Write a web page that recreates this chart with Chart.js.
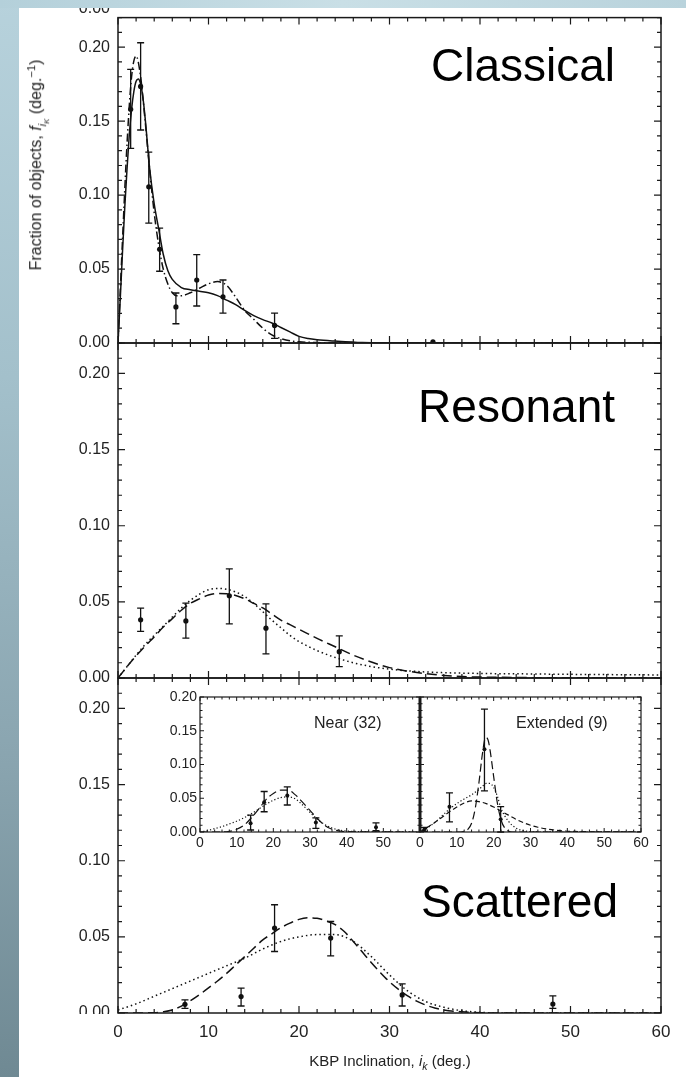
<!DOCTYPE html>
<html lang="en">
<head>
    <meta charset="UTF-8">
    <title>KBP Inclination distributions</title>
    <script src="https://cdn.jsdelivr.net/npm/chart.js"></script>
    <style>
        body {
            margin: 0;
            width: 686px;
            height: 1077px;
            overflow: hidden;
            position: relative;
            background: #fff;
            font-family: 'Liberation Sans', Arial, Helvetica, sans-serif;
            color: #222;
        }
        canvas {
            position: absolute;
            left: 0;
            top: 0;
        }
        .bgLeft {
            position: absolute;
            left: 0; top: 0;
            width: 19px; height: 1077px;
            background: linear-gradient(180deg, #b7d2dc 0%, #a3c0cb 35%, #8aa5b0 70%, #6f8993 100%);
            z-index: 5;
        }
        .bgTop {
            position: absolute;
            left: 0; top: 0;
            width: 686px; height: 8px;
            background: linear-gradient(90deg, #b4d0da 0%, #c9dfe6 50%, #b9d3dc 100%);
            z-index: 5;
        }
        .big {
            position: absolute;
            font-size: 46px;
            line-height: 1;
            color: #000;
            white-space: nowrap;
            z-index: 4;
        }
        .small {
            position: absolute;
            font-size: 16px;
            line-height: 1;
            white-space: nowrap;
            z-index: 4;
        }
        #ytitle {
            position: absolute;
            left: 38px;
            top: 165px;
            font-size: 16px;
            white-space: nowrap;
            transform: translate(-50%, -50%) rotate(-90deg);
            z-index: 4;
        }
        #xtitle {
            position: absolute;
            left: 390px;
            top: 1062px;
            font-size: 15px;
            white-space: nowrap;
            transform: translate(-50%, -50%);
            z-index: 4;
        }
        sub { font-size: 70%; }
        sup { font-size: 70%; }
        .cover {
            position: absolute;
            background: #fff;
            z-index: 3;
        }
    </style>
</head>
<body>
    <canvas id="cTop" width="686" height="1077"></canvas>
    <canvas id="cMid" width="686" height="1077"></canvas>
    <canvas id="cBot" width="686" height="1077"></canvas>
    <canvas id="cNear" width="686" height="1077"></canvas>
    <canvas id="cExt" width="686" height="1077"></canvas>

    <div class="bgLeft"></div>
    <div class="bgTop"></div>
    <div class="small" style="right:576px; top:0px;">0.00</div>
    <div class="cover" style="left:60px; top:1014px; width:56px; height:10px;"></div>

    <div id="ytitle">Fraction of objects, <i>f</i><sub><i>i<sub>K</sub></i></sub> (deg.<sup>−1</sup>)</div>
    <div id="xtitle">KBP Inclination, <i>i</i><sub><i>k</i></sub> (deg.)</div>

    <div class="big" style="right:71px; top:42px;">Classical</div>
    <div class="big" style="right:71px; top:383px;">Resonant</div>
    <div class="big" style="right:68px; top:878px;">Scattered</div>
    <div class="small" style="left:314px; top:715px;">Near (32)</div>
    <div class="small" style="left:516px; top:715px;">Extended (9)</div>

    <script>
        // ---- data ----
        const xTickValues = [0, 10, 20, 30, 40, 50, 60];
        const yTickValues = [0, 0.05, 0.10, 0.15, 0.20];

        // Classical
        const clsPtX  = [1.4, 2.5, 3.4, 4.6, 6.4, 8.7, 11.6, 17.3, 34.8];
        const clsPtY  = [0.158, 0.1735, 0.1056, 0.0634, 0.0244, 0.0426, 0.0312, 0.0119, 0.0008];
        const clsPtLo = [0.1316, 0.144, 0.081, 0.0485, 0.013, 0.025, 0.0202, 0.0031, 0.0008];
        const clsPtHi = [0.185, 0.203, 0.129, 0.0777, 0.0338, 0.0597, 0.0426, 0.0202, 0.0008];
        const clsSolidX = [0, 0.25, 0.5, 0.75, 1, 1.25, 1.5, 1.75, 2, 2.25, 2.5, 2.75, 3, 3.5, 4, 4.5, 5, 5.5, 6, 7, 8, 9, 10, 11, 12, 13, 14, 15, 16, 17, 18, 19, 20, 21, 22, 24, 27, 30, 40, 60];
        const clsSolidY = [0, 0.030, 0.062, 0.092, 0.118, 0.141, 0.158, 0.170, 0.177, 0.1785, 0.175, 0.166, 0.152, 0.118, 0.094, 0.077, 0.060, 0.049, 0.043, 0.0375, 0.036, 0.035, 0.034, 0.032, 0.029, 0.026, 0.022, 0.0185, 0.0158, 0.0135, 0.0105, 0.0075, 0.0045, 0.003, 0.0022, 0.0013, 0.0003, 0.0001, 0, 0];
        const clsDashDotX = [0, 0.5, 1, 1.5, 2, 2.5, 3, 3.5, 4, 4.5, 5, 5.5, 6, 6.5, 7, 8, 9, 10, 11, 12, 13, 14, 15, 16, 17, 18, 19, 20, 22, 25, 30, 60];
        const clsDashDotY = [0, 0.07, 0.135, 0.180, 0.194, 0.180, 0.150, 0.117, 0.088, 0.066, 0.050, 0.040, 0.034, 0.032, 0.032, 0.034, 0.037, 0.040, 0.0415, 0.039, 0.031, 0.022, 0.016, 0.010, 0.0055, 0.003, 0.0015, 0.0008, 0.0003, 0.0001, 0, 0];

        // Resonant
        const resPtX  = [2.5, 7.5, 12.3, 16.35, 24.45];
        const resPtY  = [0.0382, 0.0375, 0.054, 0.0327, 0.0173];
        const resPtLo = [0.0306, 0.0262, 0.0356, 0.0158, 0.0075];
        const resPtHi = [0.0459, 0.0492, 0.0716, 0.0487, 0.0277];
        const resDashX = [0, 1, 2, 3, 4, 5, 6, 7, 8, 9, 10, 11, 12, 13, 14, 15, 16, 17, 18, 19, 20, 22, 24, 26, 28, 30, 32, 34, 36, 40, 60];
        const resDashY = [0, 0.0075, 0.0145, 0.021, 0.027, 0.0335, 0.039, 0.0445, 0.049, 0.052, 0.0545, 0.0555, 0.0553, 0.0542, 0.052, 0.049, 0.046, 0.042, 0.038, 0.035, 0.032, 0.026, 0.0205, 0.015, 0.0105, 0.0068, 0.0045, 0.0028, 0.0017, 0.0006, 0];
        const resDotX = [0, 1, 2, 3, 4, 5, 6, 7, 8, 9, 10, 11, 12, 13, 14, 15, 16, 17, 18, 19, 20, 22, 24, 26, 28, 30, 32, 35, 40, 45, 50, 55, 60];
        const resDotY = [0, 0.0075, 0.015, 0.022, 0.028, 0.034, 0.040, 0.046, 0.051, 0.055, 0.058, 0.0588, 0.0583, 0.0565, 0.0535, 0.049, 0.0435, 0.038, 0.033, 0.028, 0.024, 0.018, 0.0135, 0.010, 0.0075, 0.0058, 0.0047, 0.0037, 0.003, 0.0027, 0.0024, 0.0022, 0.002];

        // Scattered
        const scaPtX  = [7.4, 13.6, 17.3, 23.5, 31.4, 48.05];
        const scaPtY  = [0.0057, 0.0108, 0.0558, 0.0492, 0.0119, 0.0059];
        const scaPtLo = [0.003, 0.0046, 0.0404, 0.0375, 0.0046, 0.003];
        const scaPtHi = [0.0086, 0.0163, 0.0711, 0.0601, 0.0191, 0.0112];
        const scaDashX = [0, 4, 5, 6, 7, 8, 9, 10, 11, 12, 13, 14, 15, 16, 17, 18, 19, 20, 21, 22, 23, 24, 25, 26, 27, 28, 29, 30, 31, 32, 33, 34, 35, 36, 38, 40, 42, 60];
        const scaDashY = [0, 0.0002, 0.0008, 0.002, 0.0045, 0.008, 0.012, 0.0165, 0.021, 0.026, 0.0315, 0.037, 0.0425, 0.048, 0.052, 0.056, 0.059, 0.0615, 0.0625, 0.0622, 0.0605, 0.058, 0.0535, 0.047, 0.040, 0.033, 0.0265, 0.0205, 0.0155, 0.0112, 0.0078, 0.0052, 0.0033, 0.002, 0.0008, 0.0002, 0, 0];
        const scaDotX = [0, 2, 4, 6, 8, 10, 12, 14, 16, 18, 20, 22, 24, 26, 28, 30, 32, 34, 36, 38, 40, 42, 60];
        const scaDotY = [0.002, 0.006, 0.011, 0.016, 0.021, 0.026, 0.031, 0.036, 0.042, 0.047, 0.050, 0.0515, 0.0515, 0.047, 0.037, 0.025, 0.0145, 0.0075, 0.0038, 0.0015, 0.0005, 0, 0];

        // Inset: Near (32)
        const nearPtX  = [13.8, 17.5, 23.8, 31.6, 48.0];
        const nearPtY  = [0.013, 0.044, 0.054, 0.014, 0.007];
        const nearPtLo = [0.003, 0.030, 0.040, 0.0055, 0.002];
        const nearPtHi = [0.025, 0.060, 0.067, 0.021, 0.0135];
        const nearDashX = [0, 6, 8, 10, 12, 14, 16, 18, 20, 22, 24, 26, 28, 30, 32, 34, 36, 38, 40, 60];
        const nearDashY = [0, 0, 0.001, 0.004, 0.010, 0.021, 0.034, 0.048, 0.057, 0.062, 0.062, 0.055, 0.044, 0.032, 0.020, 0.010, 0.004, 0.0015, 0.0005, 0];
        const nearDotX = [0, 2, 4, 6, 8, 10, 12, 14, 16, 18, 20, 22, 24, 26, 28, 30, 32, 34, 36, 38, 40, 45, 50, 60];
        const nearDotY = [0, 0.002, 0.005, 0.008, 0.012, 0.016, 0.021, 0.027, 0.034, 0.041, 0.047, 0.051, 0.052, 0.049, 0.040, 0.029, 0.019, 0.011, 0.006, 0.003, 0.0015, 0.0005, 0.0002, 0];

        // Inset: Extended (9)
        const extPtX  = [1.2, 8.0, 17.5, 21.9];
        const extPtY  = [0.004, 0.0375, 0.1225, 0.019];
        const extPtLo = [0.001, 0.015, 0.061, 0.0];
        const extPtHi = [0.007, 0.058, 0.182, 0.0375];
        const extNarrowX = [0, 11, 12, 13, 14, 15, 16, 17, 17.8, 18.5, 19, 20, 21, 22, 23, 24, 25, 60];
        const extNarrowY = [0, 0, 0.001, 0.004, 0.013, 0.035, 0.073, 0.118, 0.140, 0.136, 0.122, 0.082, 0.043, 0.018, 0.006, 0.0015, 0, 0];
        const extBroadX = [0, 2, 4, 6, 8, 10, 12, 14, 16, 18, 20, 22, 24, 26, 28, 30, 32, 35, 38, 42, 50, 60];
        const extBroadY = [0, 0.007, 0.014, 0.022, 0.030, 0.037, 0.043, 0.046, 0.045, 0.042, 0.037, 0.031, 0.025, 0.019, 0.014, 0.010, 0.007, 0.004, 0.002, 0.0008, 0.0002, 0];
        const extDotX = [0, 2, 4, 6, 8, 10, 12, 14, 16, 17, 18, 19, 20, 21, 22, 24, 26, 28, 30, 35, 60];
        const extDotY = [0, 0.006, 0.014, 0.024, 0.034, 0.042, 0.049, 0.055, 0.063, 0.068, 0.072, 0.072, 0.066, 0.053, 0.035, 0.016, 0.006, 0.002, 0.0005, 0, 0];

        // ---- layout ----
        const W = 686, H = 1077;
        const AX_L = 118, AX_R = 661;
        const FONT = "'Liberation Sans', Arial, Helvetica, sans-serif";
        const INK = '#111';

        Chart.defaults.font.family = FONT;
        Chart.defaults.color = '#222';

        const pts = (xs, ys) => xs.map((x, i) => ({ x: x, y: ys[i] }));

        function curve(xs, ys, dash, width) {
            return {
                data: pts(xs, ys),
                borderColor: INK,
                borderWidth: width || 1.5,
                borderDash: dash,
                pointRadius: 0,
                fill: false,
                cubicInterpolationMode: 'monotone'
            };
        }

        function points(xs, ys, lo, hi, r) {
            return {
                data: pts(xs, ys),
                showLine: false,
                pointRadius: r || 2.6,
                pointBackgroundColor: INK,
                pointBorderWidth: 0,
                errLo: lo,
                errHi: hi
            };
        }

        // error bars drawn through the chart's own scales
        const errorBars = {
            id: 'errorBars',
            afterDatasetsDraw(chart) {
                const ctx = chart.ctx, x = chart.scales.x, y = chart.scales.y;
                ctx.save();
                ctx.strokeStyle = INK;
                ctx.lineWidth = 1.3;
                chart.data.datasets.forEach(ds => {
                    if (!ds.errLo) return;
                    ds.data.forEach((p, i) => {
                        if (ds.errHi[i] - ds.errLo[i] < 1e-6) return;
                        const px = x.getPixelForValue(p.x);
                        const y1 = y.getPixelForValue(ds.errLo[i]);
                        const y2 = y.getPixelForValue(ds.errHi[i]);
                        const cap = ds.cap || 3.5;
                        ctx.beginPath();
                        ctx.moveTo(px, y1); ctx.lineTo(px, y2);
                        ctx.moveTo(px - cap, y1); ctx.lineTo(px + cap, y1);
                        ctx.moveTo(px - cap, y2); ctx.lineTo(px + cap, y2);
                        ctx.stroke();
                    });
                });
                ctx.restore();
            }
        };

        // box with inward ticks
        function framePlugin(o) {
            return {
                id: 'frame',
                beforeDatasetsDraw(chart) {
                    if (!o.fill) return;
                    const a = chart.chartArea;
                    chart.ctx.save();
                    chart.ctx.fillStyle = '#fff';
                    chart.ctx.fillRect(a.left, a.top, a.right - a.left, a.bottom - a.top);
                    chart.ctx.restore();
                },
                afterDraw(chart) {
                    const ctx = chart.ctx, a = chart.chartArea, x = chart.scales.x, y = chart.scales.y;
                    ctx.save();
                    ctx.strokeStyle = '#1a1a1a';
                    ctx.lineWidth = o.lw;
                    ctx.strokeRect(a.left, a.top, a.right - a.left, a.bottom - a.top);
                    if (o.thickLeft) {
                        ctx.lineWidth = 3;
                        ctx.beginPath();
                        ctx.moveTo(a.left, a.top); ctx.lineTo(a.left, a.bottom);
                        ctx.stroke();
                    }
                    ctx.lineWidth = o.tw;
                    ctx.beginPath();
                    const nx = Math.round((x.max - x.min) / o.xMinor);
                    for (let k = 0; k <= nx; k++) {
                        const v = x.min + k * o.xMinor;
                        const major = Math.abs(v / o.xMajor - Math.round(v / o.xMajor)) < 1e-6;
                        const L = major ? o.majorLen : o.minorLen;
                        const px = x.getPixelForValue(v);
                        ctx.moveTo(px, a.top); ctx.lineTo(px, a.top + L);
                        ctx.moveTo(px, a.bottom); ctx.lineTo(px, a.bottom - L);
                    }
                    const ny = Math.round((y.max - y.min) / o.yMinor);
                    for (let k = 0; k <= ny; k++) {
                        const v = y.min + k * o.yMinor;
                        const major = Math.abs(v / o.yMajor - Math.round(v / o.yMajor)) < 1e-6;
                        const L = major ? o.majorLen : o.minorLen;
                        const py = y.getPixelForValue(v);
                        ctx.moveTo(a.left, py); ctx.lineTo(a.left + L, py);
                        ctx.moveTo(a.right, py); ctx.lineTo(a.right - L, py);
                    }
                    ctx.stroke();
                    ctx.restore();
                }
            };
        }

        const mainFrame = { lw: 1.5, tw: 1.2, xMinor: 2, xMajor: 10, yMinor: 0.01, yMajor: 0.05, majorLen: 7, minorLen: 4 };

        function panelChart(id, top, bottom, datasets, showX) {
            const xH = showX ? 30 : 0;
            return new Chart(document.getElementById(id), {
                type: 'line',
                data: { datasets: datasets },
                options: {
                    responsive: false,
                    animation: false,
                    events: [],
                    layout: { padding: { left: 0, right: W - AX_R, top: top, bottom: H - bottom - xH } },
                    plugins: { legend: { display: false }, tooltip: { enabled: false } },
                    scales: {
                        x: {
                            type: 'linear', min: 0, max: 60, display: showX,
                            grid: { display: false, drawTicks: false }, border: { display: false },
                            afterBuildTicks: s => { s.ticks = xTickValues.map(v => ({ value: v })); },
                            ticks: { padding: 9, color: '#222', font: { size: 17 }, maxRotation: 0, autoSkip: false },
                            afterFit: s => { s.height = xH; }
                        },
                        y: {
                            type: 'linear', min: 0, max: 0.22,
                            grid: { display: false, drawTicks: false }, border: { display: false },
                            afterBuildTicks: s => { s.ticks = yTickValues.map(v => ({ value: v })); },
                            ticks: { padding: 8, color: '#222', font: { size: 16 }, autoSkip: false, callback: v => v.toFixed(2) },
                            afterFit: s => { s.width = AX_L; }
                        }
                    }
                },
                plugins: [framePlugin(mainFrame), errorBars]
            });
        }

        const LONG = [10, 5], DOT = [1.5, 3], DASHDOT = [8, 3, 1.5, 3];

        panelChart('cTop', 9, 343, [
            curve(clsSolidX, clsSolidY, []),
            curve(clsDashDotX, clsDashDotY, DASHDOT),
            points(clsPtX, clsPtY, clsPtLo, clsPtHi)
        ], false);

        panelChart('cMid', 343, 678, [
            curve(resDashX, resDashY, LONG),
            curve(resDotX, resDotY, DOT),
            points(resPtX, resPtY, resPtLo, resPtHi)
        ], false);

        panelChart('cBot', 678, 1013, [
            curve(scaDashX, scaDashY, LONG),
            curve(scaDotX, scaDotY, DOT),
            points(scaPtX, scaPtY, scaPtLo, scaPtHi)
        ], true);

        // ---- inset ----
        const IN_TOP = 697, IN_BOT = 832, IN_L = 200, IN_MID = 420, IN_R = 641;
        const insetFrame = { lw: 1.2, tw: 1, xMinor: 2, xMajor: 10, yMinor: 0.01, yMajor: 0.05, majorLen: 4, minorLen: 2.5, fill: true };

        function insetChart(id, left, right, datasets, showY, xLabels) {
            const xH = 20;
            return new Chart(document.getElementById(id), {
                type: 'line',
                data: { datasets: datasets },
                options: {
                    responsive: false,
                    animation: false,
                    events: [],
                    layout: { padding: { left: showY ? 0 : left, right: W - right, top: IN_TOP, bottom: H - IN_BOT - xH } },
                    plugins: { legend: { display: false }, tooltip: { enabled: false } },
                    scales: {
                        x: {
                            type: 'linear', min: 0, max: 60,
                            grid: { display: false, drawTicks: false }, border: { display: false },
                            afterBuildTicks: s => { s.ticks = xLabels.map(v => ({ value: v })); },
                            ticks: { padding: 3, color: '#222', font: { size: 14 }, maxRotation: 0, autoSkip: false },
                            afterFit: s => { s.height = xH; }
                        },
                        y: {
                            type: 'linear', min: 0, max: 0.2, display: showY,
                            grid: { display: false, drawTicks: false }, border: { display: false },
                            afterBuildTicks: s => { s.ticks = yTickValues.map(v => ({ value: v })); },
                            ticks: { padding: 3, color: '#222', font: { size: 14 }, autoSkip: false, callback: v => v.toFixed(2) },
                            afterFit: s => { s.width = showY ? left : 0; }
                        }
                    }
                },
                plugins: [framePlugin(Object.assign({}, insetFrame, { thickLeft: !showY })), errorBars]
            });
        }

        const SDASH = [5, 3], SLONG = [8, 4], SDOT = [1.2, 2.2];

        insetChart('cNear', IN_L, IN_MID, [
            curve(nearDashX, nearDashY, SLONG, 1.2),
            curve(nearDotX, nearDotY, SDOT, 1.2),
            points(nearPtX, nearPtY, nearPtLo, nearPtHi, 2)
        ], true, [0, 10, 20, 30, 40, 50]);

        insetChart('cExt', IN_MID, IN_R, [
            curve(extNarrowX, extNarrowY, SLONG, 1.2),
            curve(extBroadX, extBroadY, SDASH, 1.2),
            curve(extDotX, extDotY, SDOT, 1.2),
            points(extPtX, extPtY, extPtLo, extPtHi, 2)
        ], false, [0, 10, 20, 30, 40, 50, 60]);
    </script>
</body>
</html>
